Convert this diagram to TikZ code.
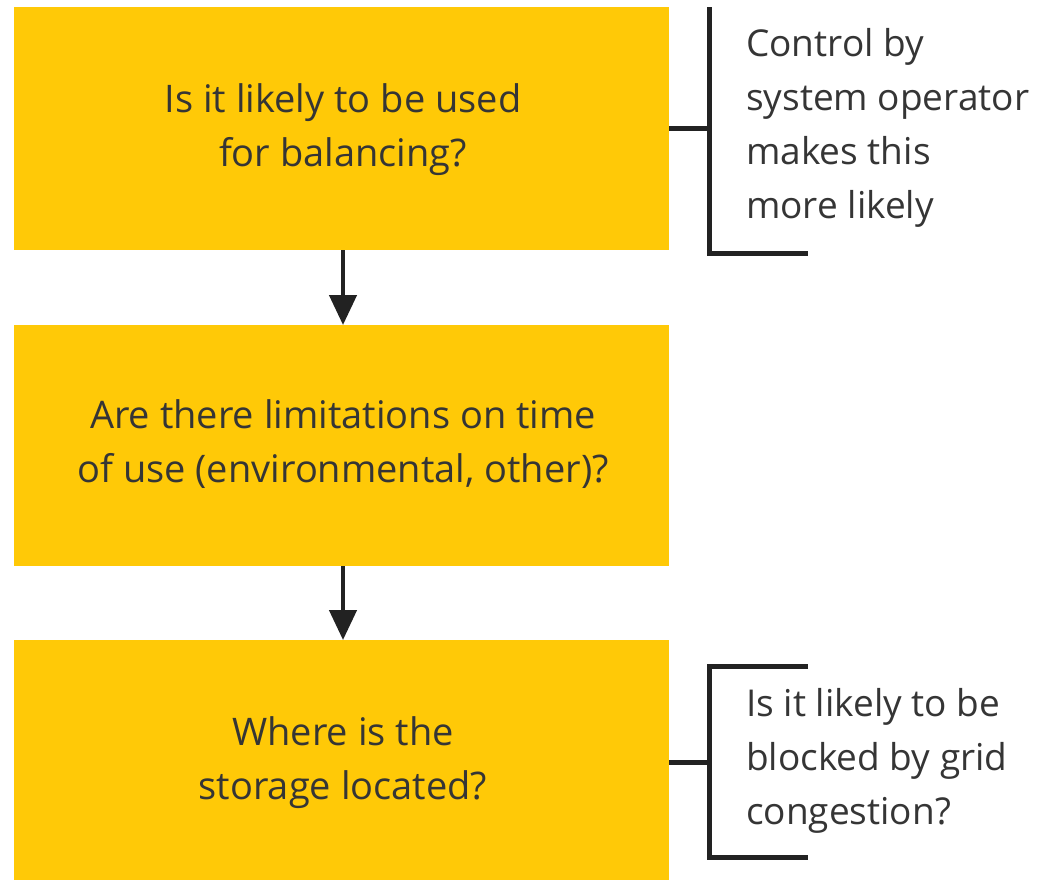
\documentclass[tikz,border=0pt]{standalone}
\usepackage{fontspec}
\setmainfont{Open Sans}
\usetikzlibrary{arrows.meta}
\definecolor{boxyellow}{HTML}{FFC907}
\definecolor{txt}{HTML}{353535}
\definecolor{lin}{HTML}{222222}
\tikzset{
  qbox/.style={fill=boxyellow, draw=none, minimum width=655pt, inner sep=0pt, anchor=north west},
  qtext/.style={text=txt, font=\fontsize{38}{54}\selectfont, align=center},
  sidetext/.style={text=txt, font=\fontsize{37}{54}\selectfont, align=left, anchor=west, inner sep=0pt},
  flow/.style={draw=lin, line width=4.5pt, -{Triangle[width=27pt,length=30pt]}},
  brk/.style={draw=lin, line width=5pt}
}
\begin{document}
\begin{tikzpicture}[x=1pt,y=-1pt]
\useasboundingbox (0,0) rectangle (1039,879);
\fill[white] (0,0) rectangle (1039,879);
% boxes
\node[qbox, minimum height=243pt] (b1) at (14,7) {};
\node[qbox, minimum height=241pt] (b2) at (14,325) {};
\node[qbox, minimum height=245pt] (b3) at (14,640) {};
\node[qtext] (t1) at (343,130) {Is it likely to be used\\for balancing?};
\node[qtext] (t2) at (343,444) {Are there limitations on time\\of use (environmental, other)?};
\node[qtext] (t3) at (343,763) {Where is the\\storage located?};
% arrows
\draw[flow] (b1.south -| t1.south) -- (b2.north -| t1.south);
\draw[flow] (b2.south -| t1.south) -- (b3.north -| t1.south);
% bracket 1
\coordinate (k1t) at (709,7);
\coordinate (k1b) at (709,253);
\coordinate (k1e) at (808,253);
\coordinate (k1m) at (709,128);
\draw[brk] (k1t) -- (k1b) -- (k1e);
\draw[brk] (b1.east |- k1m) -- (k1m);
\node[sidetext] (s1) at (746,128) {Control by\\system operator\\makes this\\more likely};
% bracket 2
\coordinate (k2t) at (808,666);
\coordinate (k2a) at (709,666);
\coordinate (k2b) at (709,857);
\coordinate (k2e) at (808,857);
\coordinate (k2m) at (709,762);
\draw[brk] (k2t) -- (k2a) -- (k2b) -- (k2e);
\draw[brk] (b3.east |- k2m) -- (k2m);
\node[sidetext] (s2) at (746,761) {Is it likely to be\\blocked by grid\\congestion?};
\end{tikzpicture}
\end{document}
